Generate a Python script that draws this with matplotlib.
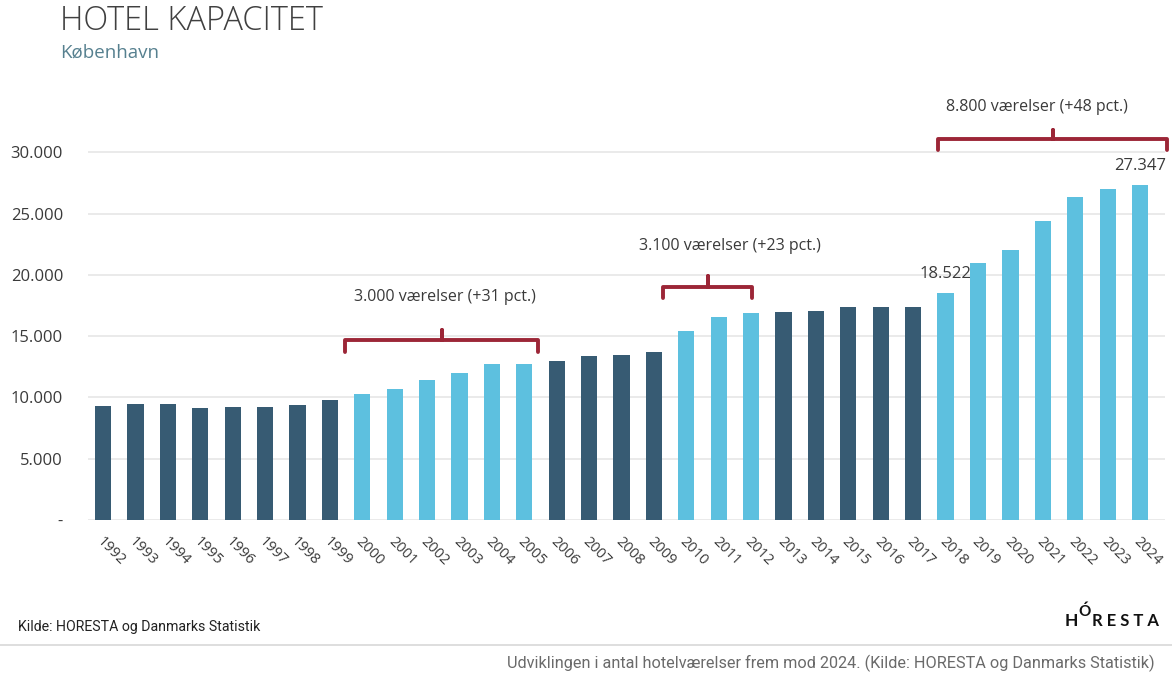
import matplotlib
matplotlib.use("Agg")
import matplotlib.pyplot as plt
from matplotlib.lines import Line2D
from matplotlib.path import Path
from matplotlib.patches import PathPatch

# --- data -------------------------------------------------------------
years = list(range(1992, 2025))
rooms = [9330, 9490, 9490, 9120, 9220, 9220, 9410, 9770,
         10260, 10720, 11430, 12020, 12730, 12730,
         12980, 13390, 13470, 13740,
         15430, 16570, 16920,
         17000, 17090, 17360, 17360, 17360,
         18522, 21000, 22020, 24410, 26340, 26970, 27347]

# growth periods highlighted in light blue
growth_periods = [(2000, 2005), (2010, 2012), (2018, 2024)]

# brace annotations: label, x span, (foot y, bar y, tip y), label position
brace_labels = ["3.000 værelser (+31 pct.)",
                "3.100 værelser (+23 pct.)",
                "8.800 værelser (+48 pct.)"]
brace_x = [(1999.47, 2005.43), (2009.28, 2012.03), (2017.77, 2024.84)]
brace_y = [(13740, 14690, 15500),
           (18120, 19020, 19900),
           (30200, 31100, 31840)]
brace_label_pos = [(2002.56, 18200), (2011.35, 22370), (2020.83, 33700)]

value_label_years = [2018, 2024]

y_ticks = [0, 5000, 10000, 15000, 20000, 25000, 30000]
y_tick_labels = ["-", "5.000", "10.000", "15.000", "20.000", "25.000", "30.000"]

# --- styling ----------------------------------------------------------
DARK = "#375b73"
LIGHT = "#5dc0df"
BRACE = "#9c2637"
TEXT = "#3a3a3a"
plt.rcParams["font.family"] = ["Open Sans", "DejaVu Sans"]

W, H = 1172, 675
fig = plt.figure(figsize=(W / 100, H / 100), dpi=100)
fig.patch.set_facecolor("white")

ax = fig.add_axes([88 / W, (H - 520) / H, 1077 / W, (520 - 91) / H])
ax.set_xlim(1992 - 0.463, 2024 + 0.77)
ax.set_ylim(0, 35000)


def in_growth(y):
    return any(a <= y <= b for a, b in growth_periods)


colors = [LIGHT if in_growth(y) else DARK for y in years]
ax.bar(years, rooms, width=0.5, color=colors, zorder=3)

# grid
ax.set_yticks(y_ticks)
ax.set_yticklabels(y_tick_labels, fontsize=12, color=TEXT)
for v in y_ticks:
    ax.axhline(v, color="#e4e4e4", lw=1.1, zorder=1)
ax.tick_params(axis="y", length=0, pad=18)
ax.set_xticks([])
for s in ax.spines.values():
    s.set_visible(False)

# rotated year labels
for y in years:
    ax.annotate(str(y), xy=(y, 0), xytext=(-3, -14), textcoords="offset points",
                rotation=-45, rotation_mode="anchor", ha="left", va="center",
                fontsize=10.5, color=TEXT, annotation_clip=False)

# value labels
for y in value_label_years:
    v = rooms[years.index(y)]
    ax.annotate(f"{v:,}".replace(",", "."), xy=(y, v), xytext=(0, 8),
                textcoords="offset points", ha="center", va="bottom",
                fontsize=12, color=TEXT, annotation_clip=False)

# braces
for label, (x0, x1), (yf, yb, yt), (tx, ty) in zip(brace_labels, brace_x,
                                                    brace_y, brace_label_pos):
    xm = (x0 + x1) / 2
    verts = [(x0, yf), (x0, yb), (xm, yb), (xm, yt), (xm, yb), (x1, yb), (x1, yf)]
    codes = [Path.MOVETO] + [Path.LINETO] * 6
    ax.add_patch(PathPatch(Path(verts, codes), fill=False, edgecolor=BRACE,
                           lw=2.8, capstyle="round", joinstyle="round",
                           clip_on=False, zorder=4))
    ax.text(tx, ty, label, ha="center", va="center", fontsize=11.5,
            color=TEXT, clip_on=False)

# titles
fig.text(60 / W, 1 - 21 / H, "HOTEL KAPACITET", fontsize=23.5, color="#404040",
         fontweight="light", va="center", ha="left")
fig.text(60 / W, 1 - 53 / H, "København", fontsize=13.5, color="#56808f",
         va="center", ha="left")

# footer
cond = ["Liberation Sans Narrow", "Roboto", "DejaVu Sans"]
fig.text(18 / W, 1 - 627 / H, "Kilde: HORESTA og Danmarks Statistik",
         fontsize=10.2, color="#222222", va="center", ha="left", family=cond)
fig.add_artist(Line2D([0, 1], [1 - 645 / H] * 2, color="#d8d8d8", lw=1.2,
                      transform=fig.transFigure))
fig.text(1155 / W, 1 - 663 / H,
         "Udviklingen i antal hotelværelser frem mod 2024. (Kilde: HORESTA og Danmarks Statistik)",
         fontsize=11.7, color="#6a6a6a", va="center", ha="right", family=cond)

# logo
logo_font = ["Lato", "DejaVu Sans"]
fig.text(1065 / W, 1 - 621 / H, "H", va="center", ha="left", fontsize=12.5,
         fontweight="bold", color="#111111", family=logo_font)
fig.text(1078 / W, 1 - 612 / H, "Ó", va="center", ha="left",
         fontsize=11, fontweight="bold", color="#111111", family=logo_font)
fig.text(1092 / W, 1 - 621 / H, "R E S T A", va="center", ha="left", fontsize=12,
         fontweight="bold", color="#111111", family=logo_font)

fig.savefig("out.png", dpi=100, facecolor="white")
